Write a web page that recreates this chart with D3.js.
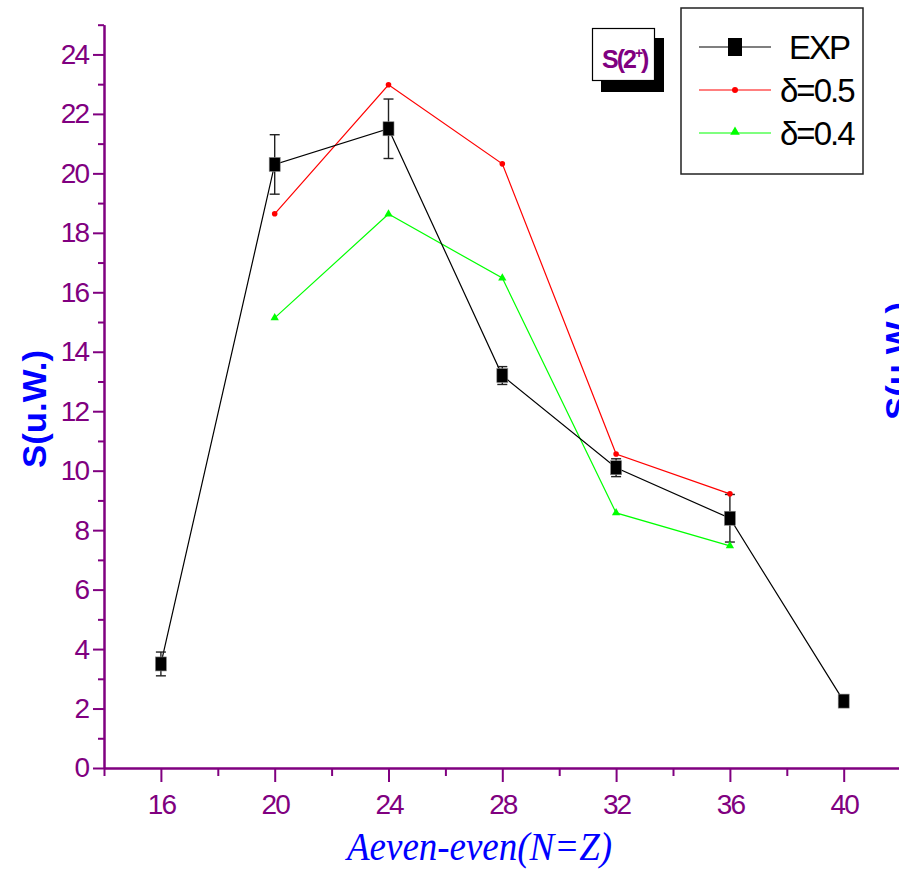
<!DOCTYPE html>
<html>
<head>
<meta charset="utf-8">
<script src="https://cdn.jsdelivr.net/npm/d3@7"></script>
<style>
  body { margin: 0; background: #fff; }
  svg { display: block; }
  .tick text { font-family: "Liberation Sans", Arial, sans-serif; font-size: 28px; letter-spacing: -2px; fill: #800080; }
</style>
</head>
<body>
<div id="chart"></div>
<script>
// values
const massNumbers = [16, 20, 24, 28, 32, 36, 40];
const expValues = [3.5, 20.3, 21.5, 13.2, 10.1, 8.4, 2.25];
const expErrors = [0.4, 1.0, 1.0, 0.3, 0.3, 0.8, 0.1];

const calcNumbers = [20, 24, 28, 32, 36];
const delta05 = [18.64, 22.98, 20.32, 10.56, 9.22];
const delta04 = [15.14, 18.63, 16.48, 8.58, 7.47];

const xMajorTicks = [16, 20, 24, 28, 32, 36, 40];
const xMinorTicks = [14, 18, 22, 26, 30, 34, 38, 42];
const yMajorTicks = [0, 2, 4, 6, 8, 10, 12, 14, 16, 18, 20, 22, 24];
const yMinorTicks = [1, 3, 5, 7, 9, 11, 13, 15, 17, 19, 21, 23, 25];

const legendLabels = ['EXP', 'δ=0.5', 'δ=0.4'];

const width = 899, height = 877;
const purple = '#800080';

const svg = d3.select('#chart')
    .append('svg')
    .attr('width', width)
    .attr('height', height);

const x = d3.scaleLinear().domain([14, 42]).range([104, 900.6]);
const y = d3.scaleLinear().domain([0, 25]).range([768, 24.7]);

// minor ticks first, then major with labels
svg.append('g')
    .attr('transform', 'translate(0,768)')
    .call(d3.axisBottom(x).tickValues(xMinorTicks).tickSize(8).tickSizeOuter(0).tickFormat(''));
svg.append('g')
    .attr('transform', 'translate(0,768)')
    .call(d3.axisBottom(x).tickValues(xMajorTicks).tickSize(14).tickSizeOuter(0).tickPadding(12).tickFormat(d3.format('d')));

svg.append('g')
    .attr('transform', 'translate(104,0)')
    .call(d3.axisLeft(y).tickValues(yMinorTicks).tickSize(6).tickSizeOuter(0).tickFormat(''));
svg.append('g')
    .attr('transform', 'translate(104,0)')
    .call(d3.axisLeft(y).tickValues(yMajorTicks).tickSize(11).tickSizeOuter(0).tickPadding(5).tickFormat(d3.format('d')));

svg.selectAll('.domain, .tick line')
    .attr('stroke', purple)
    .attr('stroke-width', 2);

// axis titles
svg.append('text')
    .attr('transform', 'translate(46,468) rotate(-90)')
    .attr('font-family', '"Liberation Sans", Arial, sans-serif')
    .attr('font-weight', 'bold')
    .attr('font-size', 34)
    .attr('fill', '#0000ff')
    .attr('textLength', 118)
    .attr('lengthAdjust', 'spacingAndGlyphs')
    .text('S(u.W.)');

svg.append('text')
    .attr('transform', 'translate(909,420) rotate(-90)')
    .attr('font-family', '"Liberation Sans", Arial, sans-serif')
    .attr('font-weight', 'bold')
    .attr('font-size', 34)
    .attr('fill', '#0000ff')
    .attr('textLength', 118)
    .attr('lengthAdjust', 'spacingAndGlyphs')
    .text('S(u.W.)');

svg.append('text')
    .attr('x', 347)
    .attr('y', 860)
    .attr('font-family', '"Liberation Serif", "DejaVu Serif", serif')
    .attr('font-style', 'italic')
    .attr('font-size', 40)
    .attr('fill', '#0000ff')
    .attr('textLength', 265)
    .attr('lengthAdjust', 'spacingAndGlyphs')
    .text('Aeven-even(N=Z)');

// series lines
const expPoints = massNumbers.map((m, i) => ({x: m, y: expValues[i], err: expErrors[i]}));
const p05 = calcNumbers.map((m, i) => ({x: m, y: delta05[i]}));
const p04 = calcNumbers.map((m, i) => ({x: m, y: delta04[i]}));

const line = d3.line().x(d => x(d.x)).y(d => y(d.y));

svg.append('path').datum(p04)
    .attr('fill', 'none').attr('stroke', '#00ff00').attr('stroke-width', 1.2).attr('d', line);
svg.append('path').datum(p05)
    .attr('fill', 'none').attr('stroke', '#ff0000').attr('stroke-width', 1.2).attr('d', line);
svg.append('path').datum(expPoints)
    .attr('fill', 'none').attr('stroke', '#000').attr('stroke-width', 1.2).attr('d', line);

// error bars
const errG = svg.append('g').attr('stroke', '#222').attr('stroke-width', 1.4);
errG.selectAll('line.v').data(expPoints).enter().append('line')
    .attr('x1', d => x(d.x)).attr('x2', d => x(d.x))
    .attr('y1', d => y(d.y + d.err)).attr('y2', d => y(d.y - d.err));
errG.selectAll('line.top').data(expPoints).enter().append('line')
    .attr('x1', d => x(d.x) - 5).attr('x2', d => x(d.x) + 5)
    .attr('y1', d => y(d.y + d.err)).attr('y2', d => y(d.y + d.err));
errG.selectAll('line.bot').data(expPoints).enter().append('line')
    .attr('x1', d => x(d.x) - 5).attr('x2', d => x(d.x) + 5)
    .attr('y1', d => y(d.y - d.err)).attr('y2', d => y(d.y - d.err));

// markers
const tri = d3.symbol().type(d3.symbolTriangle).size(30);
svg.selectAll('.tri').data(p04).enter().append('path')
    .attr('transform', d => 'translate(' + x(d.x) + ',' + y(d.y) + ')')
    .attr('d', tri).attr('fill', '#00ff00');
svg.selectAll('.dot').data(p05).enter().append('circle')
    .attr('cx', d => x(d.x)).attr('cy', d => y(d.y)).attr('r', 2.8)
    .attr('fill', '#ff0000');
svg.selectAll('.sq').data(expPoints).enter().append('rect')
    .attr('x', d => x(d.x) - 5.5).attr('y', d => y(d.y) - 7)
    .attr('width', 11).attr('height', 14)
    .attr('fill', '#000').attr('stroke', '#888').attr('stroke-width', 0.6);

// S(2+) label box with shadow
svg.append('rect').attr('x', 601).attr('y', 38).attr('width', 63).attr('height', 54).attr('fill', '#000');
svg.append('rect').attr('x', 592.5).attr('y', 28.5).attr('width', 62).attr('height', 52)
    .attr('fill', '#fff').attr('stroke', '#000').attr('stroke-width', 1.2);
const sLabel = svg.append('text')
    .attr('x', 602).attr('y', 68)
    .attr('font-family', '"Liberation Sans", Arial, sans-serif')
    .attr('font-size', 25)
    .attr('font-weight', 'bold')
    .attr('letter-spacing', -2)
    .attr('fill', purple);
sLabel.append('tspan').text('S(2');
sLabel.append('tspan').attr('dy', -10).attr('font-size', 14).text('+');
sLabel.append('tspan').attr('dy', 10).text(')');

// legend
svg.append('rect').attr('x', 681).attr('y', 8).attr('width', 182).attr('height', 166)
    .attr('fill', '#fff').attr('stroke', '#222').attr('stroke-width', 1.5);
const legendColors = ['#000', '#ff0000', '#00ff00'];
const legendY = [47, 90, 133];
legendLabels.forEach((label, i) => {
    svg.append('line')
        .attr('x1', 699).attr('x2', 771).attr('y1', legendY[i]).attr('y2', legendY[i])
        .attr('stroke', legendColors[i]).attr('stroke-width', 1.2);
    if (i === 0) {
        svg.append('rect').attr('x', 728).attr('y', legendY[i] - 9).attr('width', 14).attr('height', 18).attr('fill', '#000');
    } else if (i === 1) {
        svg.append('circle').attr('cx', 735).attr('cy', legendY[i]).attr('r', 3).attr('fill', '#ff0000');
    } else {
        svg.append('path').attr('transform', 'translate(735,' + (legendY[i] - 1) + ')')
            .attr('d', d3.symbol().type(d3.symbolTriangle).size(40)).attr('fill', '#00ff00');
    }
    svg.append('text')
        .attr('x', i === 0 ? 789 : 780)
        .attr('y', legendY[i] + 12)
        .attr('font-family', '"Liberation Sans", Arial, sans-serif')
        .attr('font-size', 33)
        .attr('letter-spacing', -2)
        .attr('fill', '#000')
        .text(label);
});
</script>
</body>
</html>
